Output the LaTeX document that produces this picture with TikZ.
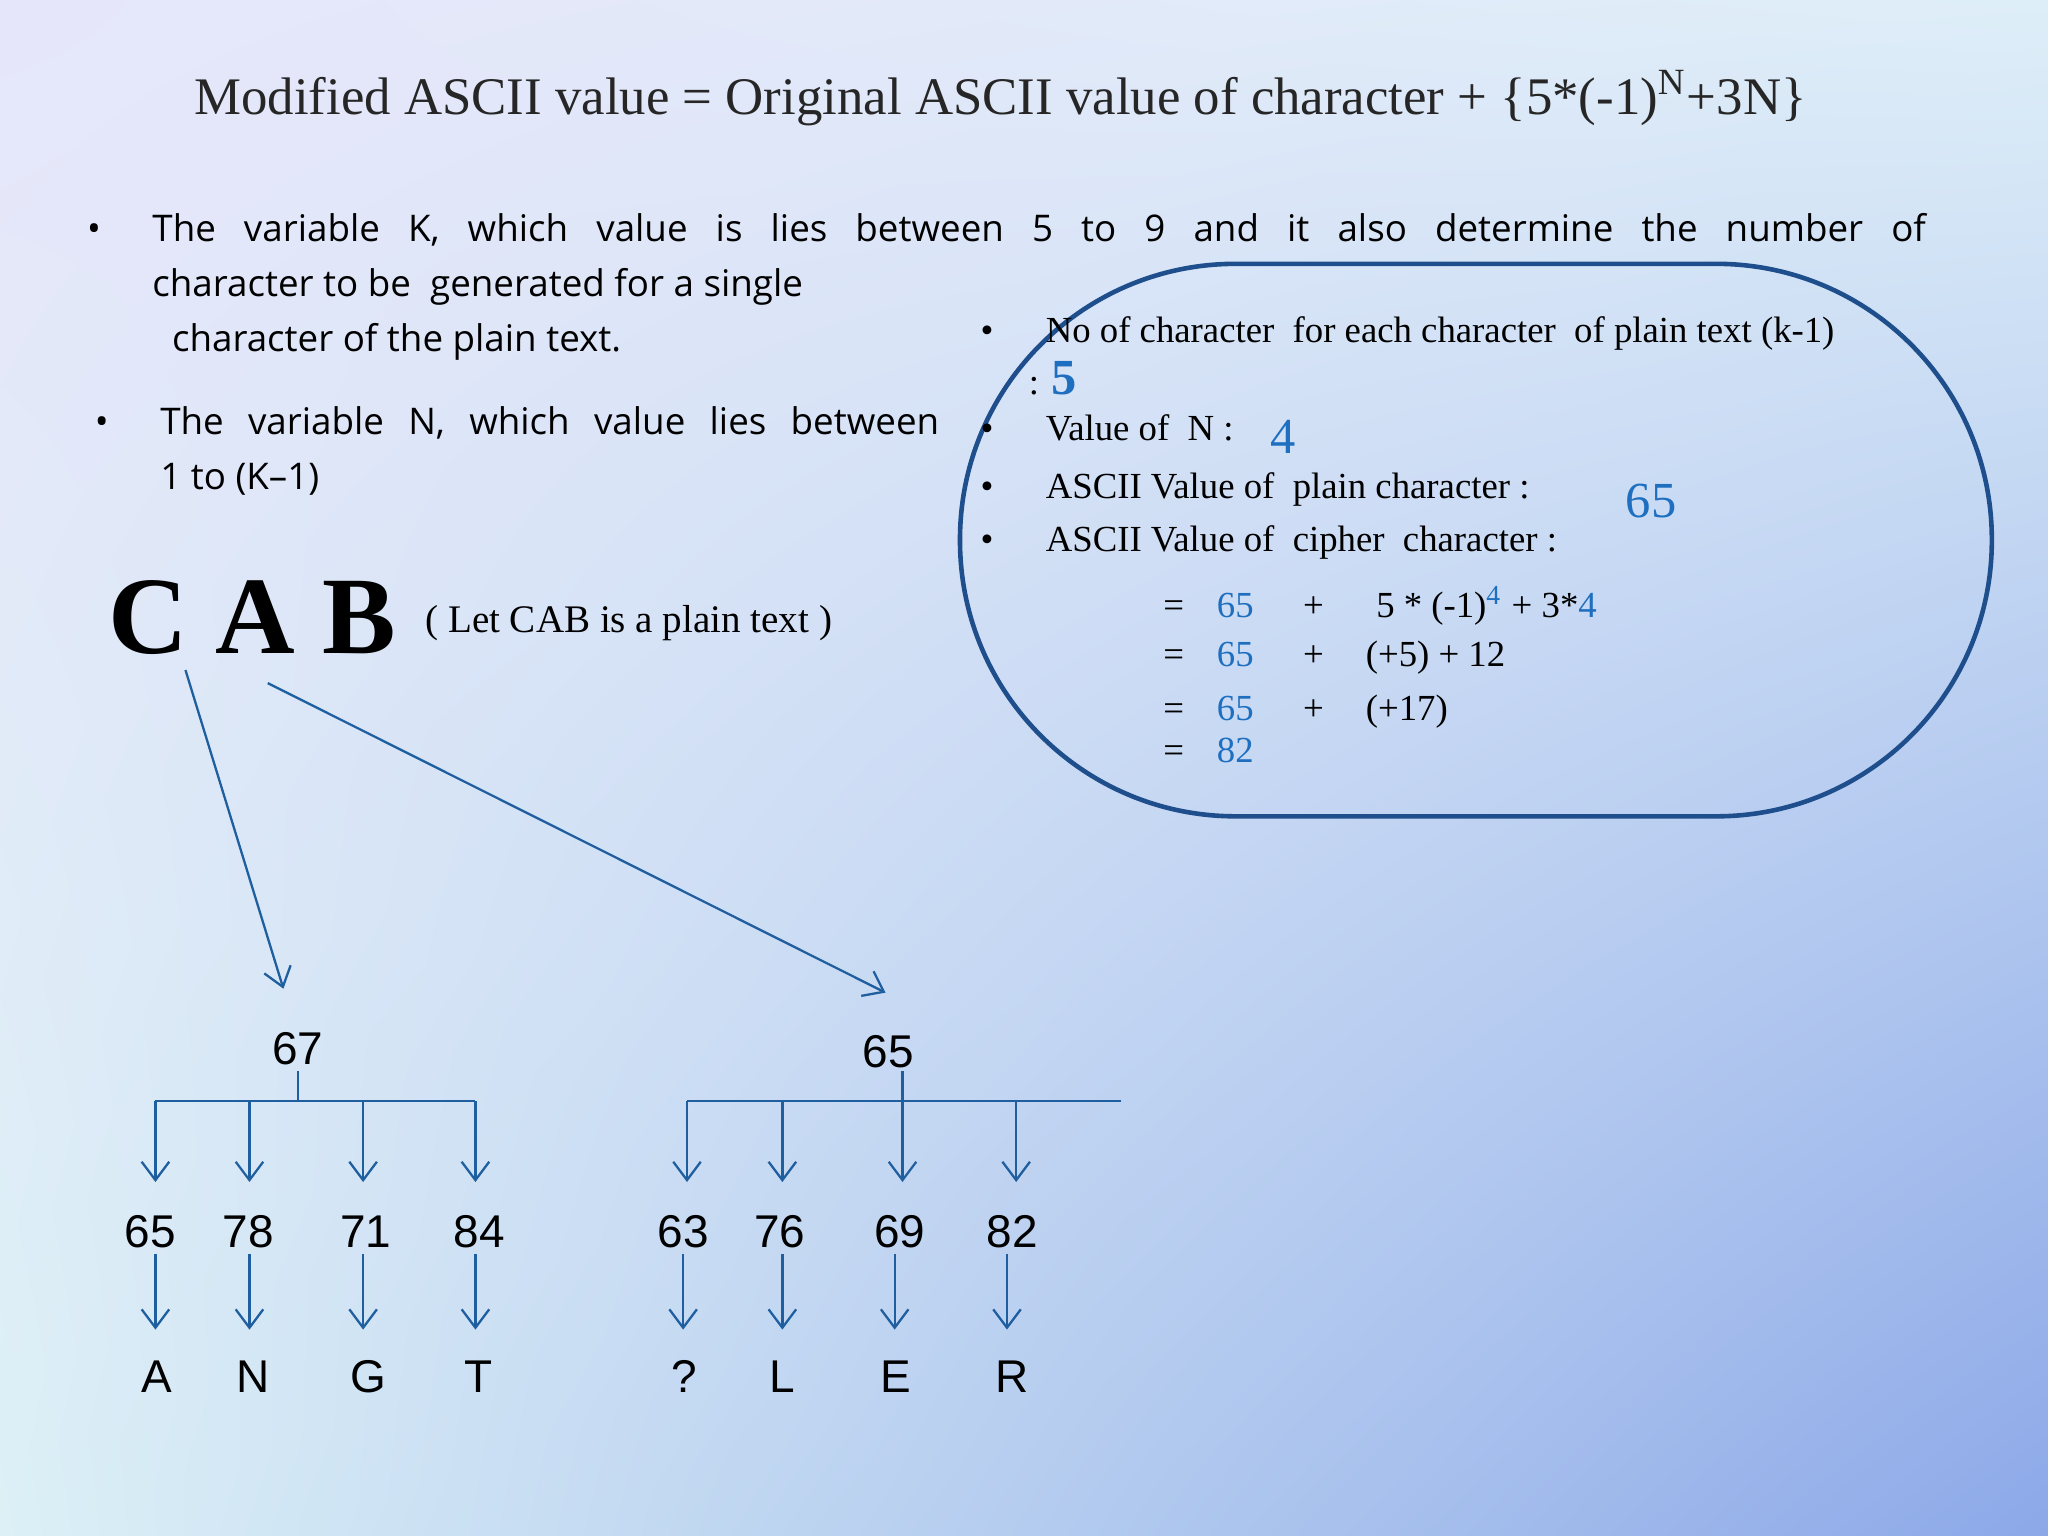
\documentclass[tikz,border=0pt]{standalone}
\usepackage{fontspec}
\setmainfont{Liberation Serif}
\newfontfamily\bodysans{Open Sans}
\newfontfamily\numsans{Liberation Sans}
\usetikzlibrary{arrows.meta,shadings}
\definecolor{boxblue}{HTML}{1F4E8C}
\definecolor{arrblue}{HTML}{1F5FA0}
\definecolor{valblue}{HTML}{1E6FC0}
\definecolor{bgul}{RGB}{230,230,250}
\definecolor{bgur}{RGB}{222,238,248}
\definecolor{bgll}{RGB}{220,240,246}
\definecolor{bglr}{RGB}{140,168,232}
\begin{document}
\begin{tikzpicture}[x=0.01cm,y=-0.01cm,
  body/.style={font=\bodysans\fontsize{8}{12}\selectfont,anchor=base west,inner sep=0},
  serif/.style={font=\fontsize{8}{12}\selectfont,anchor=base west,inner sep=0},
  blue/.style={text=valblue},
  num/.style={font=\numsans\fontsize{10}{12}\selectfont,anchor=base,inner sep=0},
  line/.style={draw=arrblue,line width=0.5pt},
  arr/.style={line,-{Straight Barb[length=4pt,width=6pt]}}]
\shade[upper left=bgul,upper right=bgur,lower left=bgll,lower right=bglr]
 (0,0) rectangle (1568,1176);
\useasboundingbox (0,0) rectangle (1568,1176);
% title
\node[font=\fontsize{11.5}{14}\selectfont,text=black!85,inner sep=0,anchor=base] (title) at (766,88)
 {Modified ASCII value = Original ASCII value of character + \{5*(-1)\textsuperscript{N}+3N\}};
% bullets left
\node[body] (b1) at (66,185) {•};
\node[body] (t1a) at (116,185) {\makebox[13.57cm][s]{The variable K, which value is lies between 5 to 9 and it also determine the number of}};
\node[body] (t1b) at (116,227) {character to be\ \ generated for a single};
\node[body] (t1c) at (131,269) {character of the plain text.};
\node[body] (b2) at (72,333) {•};
\node[body] (t2a) at (122,333) {\makebox[5.96cm][s]{The variable N, which value lies between}};
\node[body] (t2b) at (122,375) {1 to (K–1)};
% box
\draw[boxblue,line width=1pt,rounded corners=60] (735,202) rectangle (1525,625);
\node[serif] (bb1) at (750,262) {•};
\node[serif] (bt1) at (800,262) {No of character\ \ for each character\ \ of plain text (k-1)};
\node[serif] (bt1b) at (787,302) {: \textcolor{valblue}{\fontsize{11}{12}\selectfont\bfseries 5}};
\node[serif] (bb2) at (750,337) {•};
\node[serif] (bt2) at (800,337) {Value of\ \ N :};
\node[serif,blue,font=\fontsize{11}{12}\selectfont] (v4) at (972,347) {4};
\node[serif] (bb3) at (750,382) {•};
\node[serif] (bt3) at (800,382) {ASCII Value of\ \ plain character :};
\node[serif,blue,font=\fontsize{11}{12}\selectfont] (v65) at (1244,396) {65};
\node[serif] (bb4) at (750,422) {•};
\node[serif] (bt4) at (800,422) {ASCII Value of\ \ cipher\ \ character :};
\foreach \y/\v/\p/\r [count=\i] in {473/65/+/{5 * (-1)\textsuperscript{\textcolor{valblue}{4}} + 3*\textcolor{valblue}{4}},
  510/65/+/{(+5) + 12}, 552/65/+/{(+17)}, 584/82//{}}{
  \node[serif] (eq\i) at (890,\y) {=};
  \node[serif,blue] (ev\i) at (931,\y) {\v};
  \node[serif] (ep\i) at (997,\y) {\p};
  \node[serif] (er\i) at (\ifnum\i=1 1053\else 1045\fi,\y) {\r};
}
% CAB
\node[font=\fontsize{24}{26}\selectfont\bfseries,inner sep=0,anchor=base] (cab) at (193,500) {C A B};
\node[serif,font=\fontsize{8.5}{12}\selectfont] (let) at (325,484) {( Let CAB is a plain text )};
\coordinate (c1) at (142,513);
\coordinate (c2) at (205,523);
\node[num] (n67) at (228,815) {67};
\node[num] (n65) at (680,817) {65};
\draw[arr] (c1) -- (217,757);
\draw[arr] (c2) -- (678,760);
% trees
\coordinate (j1) at (228,843);
\draw[line] (228,820) -- (j1);
\draw[line] (119,843) -- (364,843);
\coordinate (j2) at (691,843);
\draw[line] (526,843) -- (858,843);
\draw[line] (691,820) -- (j2);
\foreach \x/\v/\ax/\l/\lx/\bx [count=\i] in {119/65/115/A/120/119,191/78/190/N/194/191,278/71/280/G/282/278,364/84/367/T/366/364,
   526/63/523/?/524/523,599/76/597/L/599/599,691/69/689/E/686/685,778/82/775/R/775/771}{
  \node[num] (m\i) at (\ax,955) {\v};
  \node[num] (l\i) at (\lx,1066) {\l};
  \draw[arr] (\x,843) -- (\x,905);
  \draw[arr] (\bx,960) -- (\bx,1018);
}
\end{tikzpicture}
\end{document}
